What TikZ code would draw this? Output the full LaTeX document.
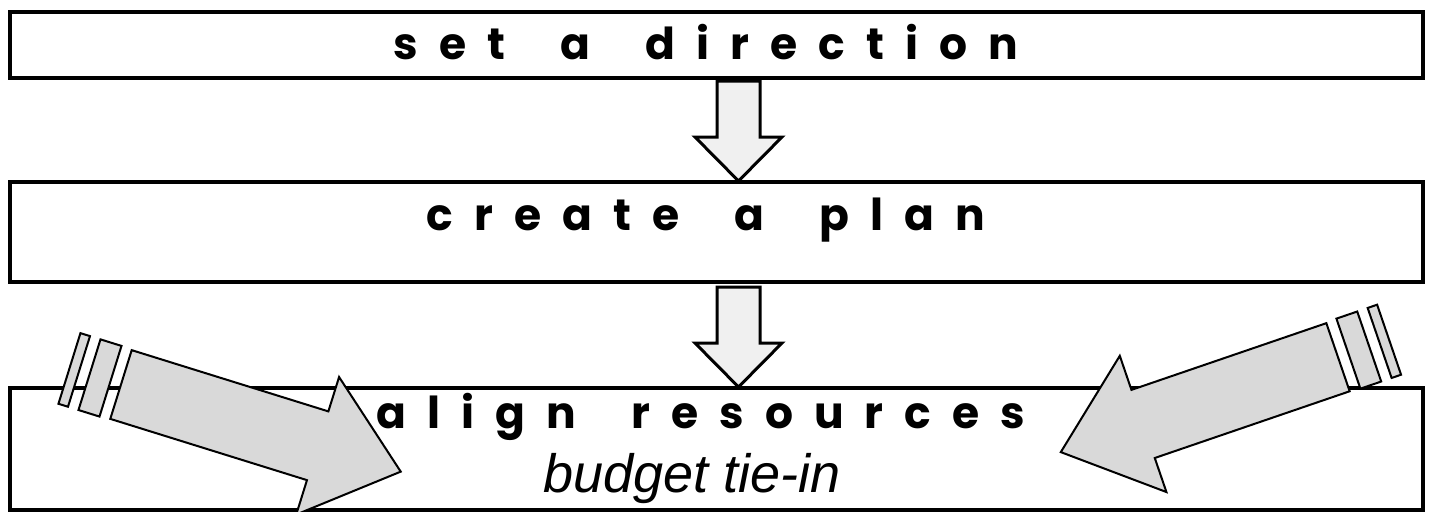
\documentclass[tikz,border=0pt]{standalone}
\usepackage{fontspec}
\setmainfont{Liberation Sans}
\newfontfamily\headfont[LetterSpace=48, WordSpace=1.8]{Poppins}
\usetikzlibrary{calc}

\tikzset{
	stage/.style={draw, line width=2pt, minimum width=706.5pt, inner sep=0pt},
	heading/.style={font=\headfont\bfseries\fontsize{22}{26}\selectfont, anchor=base, inner sep=0pt},
	note/.style={font=\itshape\fontsize{27}{32}\selectfont, anchor=base, inner sep=0pt},
	downarr/.style={draw, line width=1.5pt, fill=black!6, line join=miter},
	bigarr/.style={draw, line width=1pt, fill=black!15, line join=miter},
	% block arrow pointing down, top centre at the origin
	pics/droparrow/.style={code={
		\draw[downarr] (-21.5,0) -- (-21.5,56) -- (-43.5,56) -- (0,100) -- (43.5,56) -- (21.5,56) -- (21.5,0) -- cycle;
	}},
	% fat arrow with two bands behind its tail, tail centre at the origin
	pics/fatarrow/.style={code={
		\draw[bigarr] (-54,-37) rectangle (-44,37);
		\draw[bigarr] (-33,-37) rectangle (-11,37);
		\draw[bigarr] (0,-36) -- (206,-36) -- (206,-72) -- (293,0) -- (206,72) -- (206,36) -- (0,36) -- cycle;
	}}
}

\begin{document}
\begin{tikzpicture}[x=0.5pt, y=-0.5pt]
	\useasboundingbox (0,0) rectangle (1430,511);

	\node[stage, minimum height=33.25pt] (box1) at (716,44.75) {};
	\node[stage, minimum height=50pt] (box2) at (716,232) {};
	\node[stage, minimum height=61pt] (box3) at (716,448.5) {};

	\node[heading] (direction) at (706,59) {set a direction};
	\node[heading] (plan) at (706,230) {create a plan};
	\node[heading] (resources) at (701,428) {align resources};
	\node[note] (budget) at (692,492) {budget tie-in};

	\pic at ([shift={(22.5,1)}]box1.south) {droparrow};
	\pic at ([shift={(22.5,3)}]box2.south) {droparrow};

	\pic[rotate=-17.3] at (121,384.5) {fatarrow};
	\pic[rotate=198.9] at (1338,357.2) {fatarrow};
\end{tikzpicture}
\end{document}
